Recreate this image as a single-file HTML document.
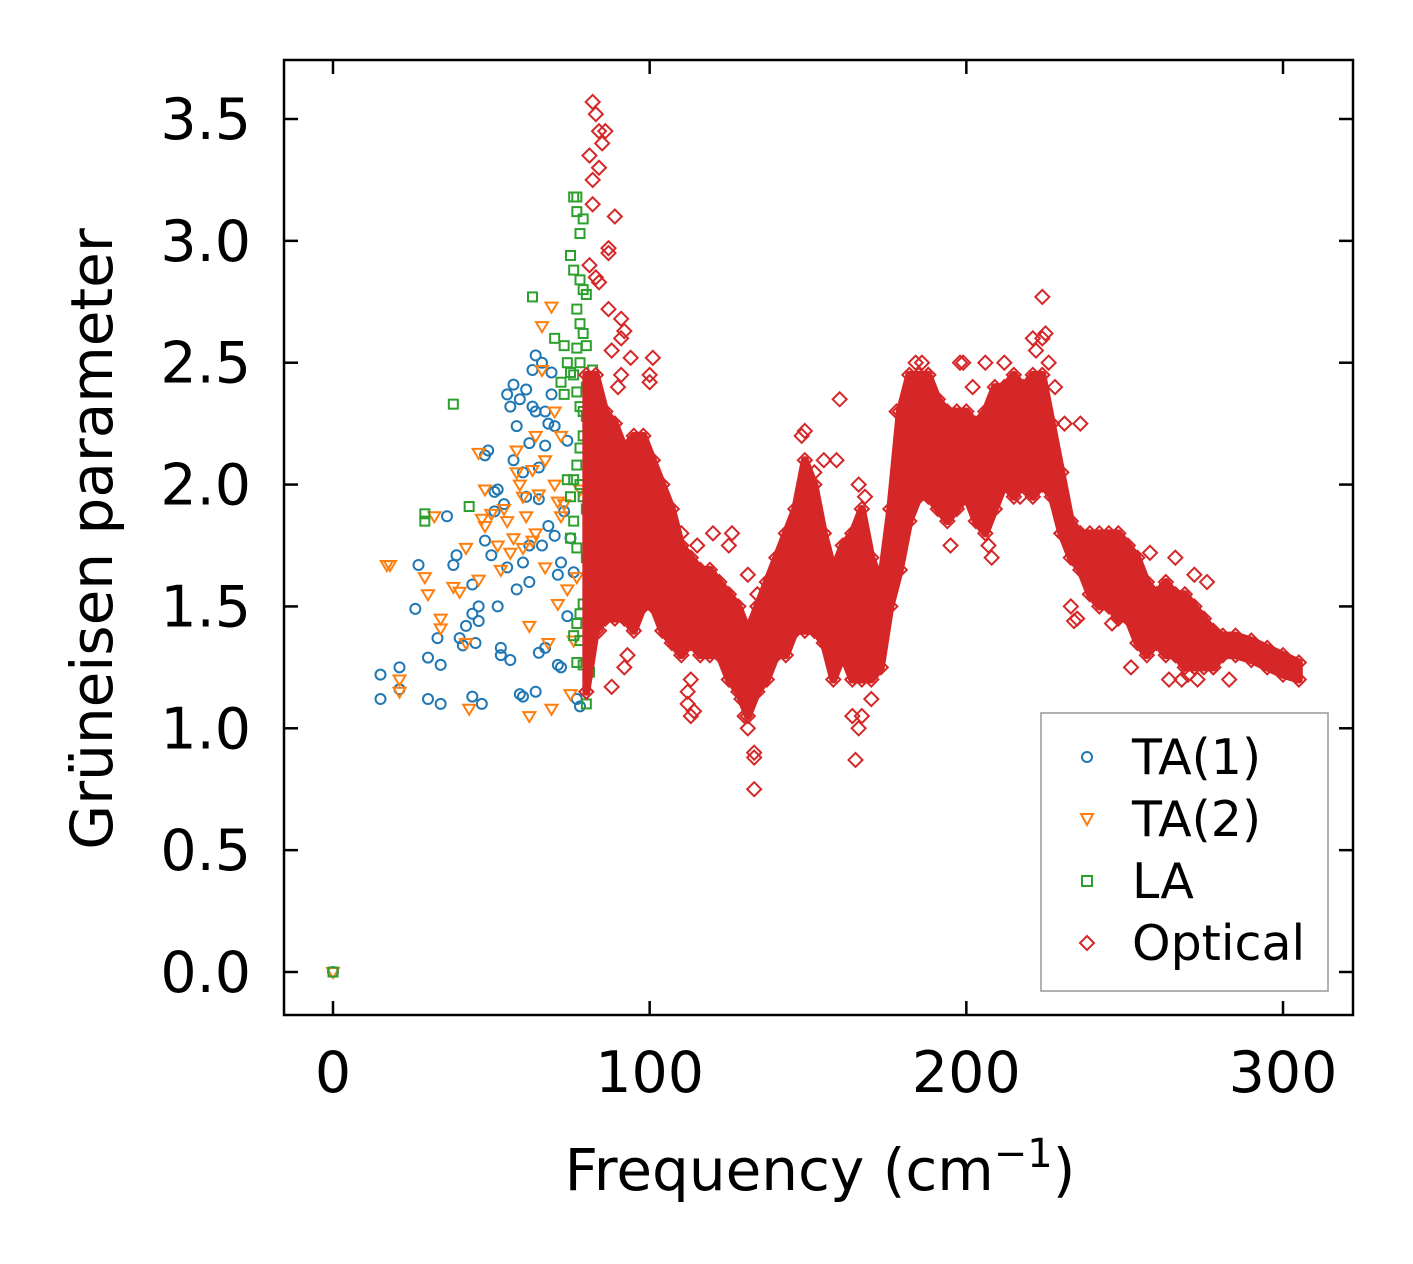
<!DOCTYPE html>
<html><head><meta charset="utf-8">
<style>
html,body{margin:0;padding:0;background:#fff;}
svg{display:block;font-family:"DejaVu Sans","Liberation Sans",sans-serif;}
</style></head>
<body>
<svg id="chart" width="1413" height="1264" viewBox="0 0 1413 1264" xmlns="http://www.w3.org/2000/svg">
<rect x="0" y="0" width="1413" height="1264" fill="#fff"/>
<g id="marks"></g>
<g id="axes"></g>
<text x="112" y="539" font-size="58" text-anchor="middle" transform="rotate(-90 112 539)">Grüneisen parameter</text>
<text x="820" y="1190" font-size="58" text-anchor="middle">Frequency (cm<tspan dy="-23" font-size="40">−1</tspan><tspan dy="23">)</tspan></text>
<g>
<rect x="1041" y="713" width="287" height="278" fill="#fff" stroke="#999" stroke-width="1.5"/>
<circle cx="1087" cy="757" r="5" fill="none" stroke="#1f77b4" stroke-width="2"/>
<text x="1132" y="774" font-size="49">TA(1)</text>
<path d="M1081,814 L1093,814 L1087,825 Z" fill="none" stroke="#ff7f0e" stroke-width="2"/>
<text x="1132" y="836" font-size="49">TA(2)</text>
<rect x="1082" y="876" width="10" height="10" fill="none" stroke="#2ca02c" stroke-width="2"/>
<text x="1132" y="898" font-size="49">LA</text>
<path d="M1087,936 L1094,943 L1087,950 L1080,943 Z" fill="none" stroke="#d62728" stroke-width="2"/>
<text x="1132" y="960" font-size="49">Optical</text>
</g>
</svg>
<script>
const xTicks=[0,100,200,300];
const yTicks=[0.0,0.5,1.0,1.5,2.0,2.5,3.0,3.5];
const ta1X=[0,15,15,21,21,27,26,30,30,33,34,34,36,39,38,40,41,42,44,44,44,45,46,46,47,48,49,48,50,51,51,52,52,53,53,54,55,55,56,56,57,57,58,58,59,59,60,60,60,61,61,62,62,62,63,63,64,64,64,65,65,65,66,66,67,67,67,68,68,69,69,70,70,71,71,72,73,74,75,76,77,78,74,72];
const ta1Y=[0,1.22,1.12,1.25,1.16,1.67,1.49,1.29,1.12,1.37,1.26,1.10,1.87,1.71,1.67,1.37,1.34,1.42,1.59,1.47,1.13,1.35,1.50,1.44,1.10,2.12,2.14,1.77,1.71,1.97,1.89,1.98,1.50,1.33,1.30,1.92,1.66,2.37,2.32,1.28,2.41,2.10,2.24,1.57,2.35,1.14,2.05,1.68,1.13,2.39,1.95,2.17,1.60,1.75,2.47,2.32,2.53,2.30,1.15,2.07,1.94,1.31,2.50,1.75,2.30,2.16,1.33,2.25,1.83,2.46,2.37,2.24,1.79,1.63,1.26,1.68,1.89,2.18,1.78,1.64,1.12,1.09,1.46,1.25];
const ta2X=[0,17,18,21,21,29,30,32,34,34,38,40,42,42,43,46,46,47,48,48,50,52,53,54,55,56,57,58,58,59,60,60,61,62,62,63,63,64,64,65,66,66,67,67,68,69,69,70,70,71,72,73,74,75,76,77,78,72,71];
const ta2Y=[0,1.67,1.67,1.20,1.15,1.62,1.55,1.87,1.45,1.41,1.58,1.56,1.35,1.74,1.08,1.61,2.13,1.86,1.98,1.83,1.88,1.75,1.65,1.90,1.85,1.72,1.78,2.14,2.05,2.00,1.95,1.74,1.87,1.05,1.42,1.77,2.06,2.20,1.80,1.96,2.65,2.47,2.10,1.66,1.35,2.73,1.08,2.30,2.00,1.93,1.87,1.92,1.57,1.14,1.36,1.62,1.98,2.20,1.51];
const laX=[0,29,29,38,43,63,73,74,75,75,76,77,77,78,79,76,78,79,80,77,78,79,80,77,70,72,73,76,77,78,79,80,81,82,83,83,82,81,79,78,77,76,78,79,80,81,82,75,74,76,75,77,80,79,78,77,76,78,77,79,81,80,82,83,78,80];
const laY=[0,1.88,1.85,2.33,1.91,2.77,2.57,2.50,2.46,2.94,3.18,3.18,3.12,3.03,3.09,2.88,2.84,2.80,2.78,2.72,2.66,2.62,2.57,2.56,2.60,2.42,2.37,2.45,2.38,2.32,2.30,2.28,2.28,2.30,2.32,2.25,2.19,2.15,2.20,2.15,2.08,2.02,2.00,1.95,1.90,2.05,2.10,1.95,2.02,1.85,1.78,1.74,1.70,1.51,1.47,1.43,1.38,1.36,1.27,1.26,1.23,1.10,2.47,2.40,2.50,2.40];
const bandF=[80,83,86,89,92,95,98,101,104,107,110,113,116,119,122,125,128,131,134,137,140,143,146,149,152,155,158,161,164,167,170,173,176,179,182,185,188,191,194,197,200,203,206,209,212,215,218,221,224,227,230,233,236,239,242,245,248,251,254,257,260,263,266,269,272,275,278,281,285,290,295,300,305];
const bandLo=[1.15,1.40,1.45,1.45,1.45,1.40,1.50,1.50,1.40,1.35,1.30,1.35,1.30,1.30,1.30,1.20,1.15,1.05,1.15,1.20,1.30,1.30,1.40,1.40,1.40,1.35,1.20,1.30,1.20,1.20,1.20,1.25,1.50,1.65,1.85,1.95,1.95,1.90,1.85,1.90,1.95,1.85,1.80,1.90,2.00,1.95,2.00,1.95,2.00,1.95,1.80,1.70,1.65,1.55,1.50,1.50,1.45,1.45,1.35,1.30,1.35,1.30,1.30,1.25,1.25,1.25,1.25,1.30,1.30,1.28,1.25,1.22,1.20];
const bandHi=[2.45,2.45,2.30,2.25,2.15,2.20,2.20,2.10,2.00,1.90,1.75,1.70,1.65,1.65,1.60,1.55,1.50,1.40,1.50,1.60,1.70,1.80,1.90,2.10,2.00,1.80,1.65,1.75,1.80,1.90,1.70,1.60,1.90,2.30,2.45,2.45,2.45,2.35,2.30,2.30,2.30,2.25,2.30,2.40,2.40,2.45,2.40,2.45,2.45,2.25,2.05,1.85,1.80,1.80,1.80,1.80,1.80,1.75,1.70,1.60,1.55,1.60,1.55,1.55,1.50,1.45,1.40,1.38,1.38,1.36,1.33,1.30,1.27];
const optX=[82,83,84,81,82,82,86,85,84,89,87,87,81,83,84,87,91,92,91,88,94,91,90,101,100,100,92,93,88,84,110,115,120,125,126,113,114,112,112,133,133,133,131,130,131,134,148,149,152,155,159,160,164,165,166,167,166,168,178,184,186,188,195,199,206,208,207,217,221,222,224,225,224,226,228,231,236,232,230,233,235,234,252,266,264,268,270,273,278,283,113,127,129,160,170,198,202,212,246,258,272,276];
const optY=[3.57,3.52,3.45,3.35,3.25,3.15,3.45,3.40,3.30,3.10,2.97,2.95,2.90,2.85,2.83,2.72,2.68,2.63,2.60,2.55,2.52,2.45,2.40,2.52,2.45,2.42,1.25,1.30,1.17,1.40,1.80,1.75,1.80,1.75,1.80,1.05,1.07,1.10,1.15,0.90,0.88,0.75,1.00,1.05,1.63,1.55,2.20,2.22,2.05,2.10,2.10,2.35,1.05,0.87,1.00,1.05,2.00,1.95,2.30,2.50,2.50,2.45,1.75,2.50,2.50,1.70,1.75,1.95,2.60,2.55,2.77,2.62,2.60,2.50,2.40,2.25,2.25,1.80,1.80,1.50,1.45,1.44,1.25,1.70,1.20,1.20,1.22,1.20,1.25,1.20,1.20,1.20,1.12,1.30,1.12,2.50,2.40,2.50,1.43,1.72,1.63,1.60];

const NS='http://www.w3.org/2000/svg';
const L=284,R=1353,T=60,B=1015;
const sx=v=>333+v*(1283-333)/300;
const sy=v=>972-v*(972-119)/3.5;
const marks=document.getElementById('marks');
const axes=document.getElementById('axes');
function mk(tag,attrs,parent){const e=document.createElementNS(NS,tag);for(const k in attrs)e.setAttribute(k,attrs[k]);parent.appendChild(e);return e;}

const gT1=mk('g',{},marks);


ta1X.forEach((x,i)=>{const e=mk('circle',{cx:sx(x),cy:sy(ta1Y[i]),r:5,fill:'none',stroke:'#1f77b4','stroke-width':2},gT1);

});

const gT2=mk('g',{},marks);


ta2X.forEach((x,i)=>{const cx=sx(x),cy=sy(ta2Y[i]);const e=mk('path',{d:`M${cx-6},${cy-4} L${cx+6},${cy-4} L${cx},${cy+6} Z`,fill:'none',stroke:'#ff7f0e','stroke-width':2},gT2);

});

const gLA=mk('g',{},marks);


laX.forEach((x,i)=>{const e=mk('rect',{x:sx(x)-4.5,y:sy(laY[i])-4.5,width:9,height:9,fill:'none',stroke:'#2ca02c','stroke-width':2},gLA);

});

const gOp=mk('g',{},marks);


let pts=bandF.map((f,i)=>`${sx(f)},${sy(bandHi[i])}`);
for(let i=bandF.length-1;i>=0;i--)pts.push(`${sx(bandF[i])},${sy(bandLo[i])}`);
const band=mk('polygon',{points:pts.join(' '),fill:'#d62728',stroke:'#d62728','stroke-width':8,'stroke-linejoin':'round'},gOp);


function diamond(f,g,name){const cx=sx(f),cy=sy(g);const e=mk('path',{d:`M${cx},${cy-7} L${cx+7},${cy} L${cx},${cy+7} L${cx-7},${cy} Z`,fill:'none',stroke:'#d62728','stroke-width':2},gOp);

}
bandF.forEach((f,i)=>{diamond(f,bandHi[i],'optical-point');diamond(f,bandLo[i],'optical-point');});
optX.forEach((x,i)=>diamond(x,optY[i],'optical-point'));

const frame=mk('rect',{x:L,y:T,width:R-L,height:B-T,fill:'none',stroke:'#000','stroke-width':2.5},axes);


xTicks.forEach(v=>{const x=sx(v);
mk('line',{x1:x,y1:B,x2:x,y2:B-14,stroke:'#000','stroke-width':2.5},axes);
mk('line',{x1:x,y1:T,x2:x,y2:T+14,stroke:'#000','stroke-width':2.5},axes);
const t=mk('text',{x:x,y:B+77,'font-size':57,'text-anchor':'middle'},axes);t.textContent=String(v);

});
yTicks.forEach(v=>{const y=sy(v);
mk('line',{x1:L,y1:y,x2:L+14,y2:y,stroke:'#000','stroke-width':2.5},axes);
mk('line',{x1:R,y1:y,x2:R-14,y2:y,stroke:'#000','stroke-width':2.5},axes);
const t=mk('text',{x:L-33,y:y+20,'font-size':57,'text-anchor':'end'},axes);t.textContent=v.toFixed(1);

});
</script>
</body></html>
